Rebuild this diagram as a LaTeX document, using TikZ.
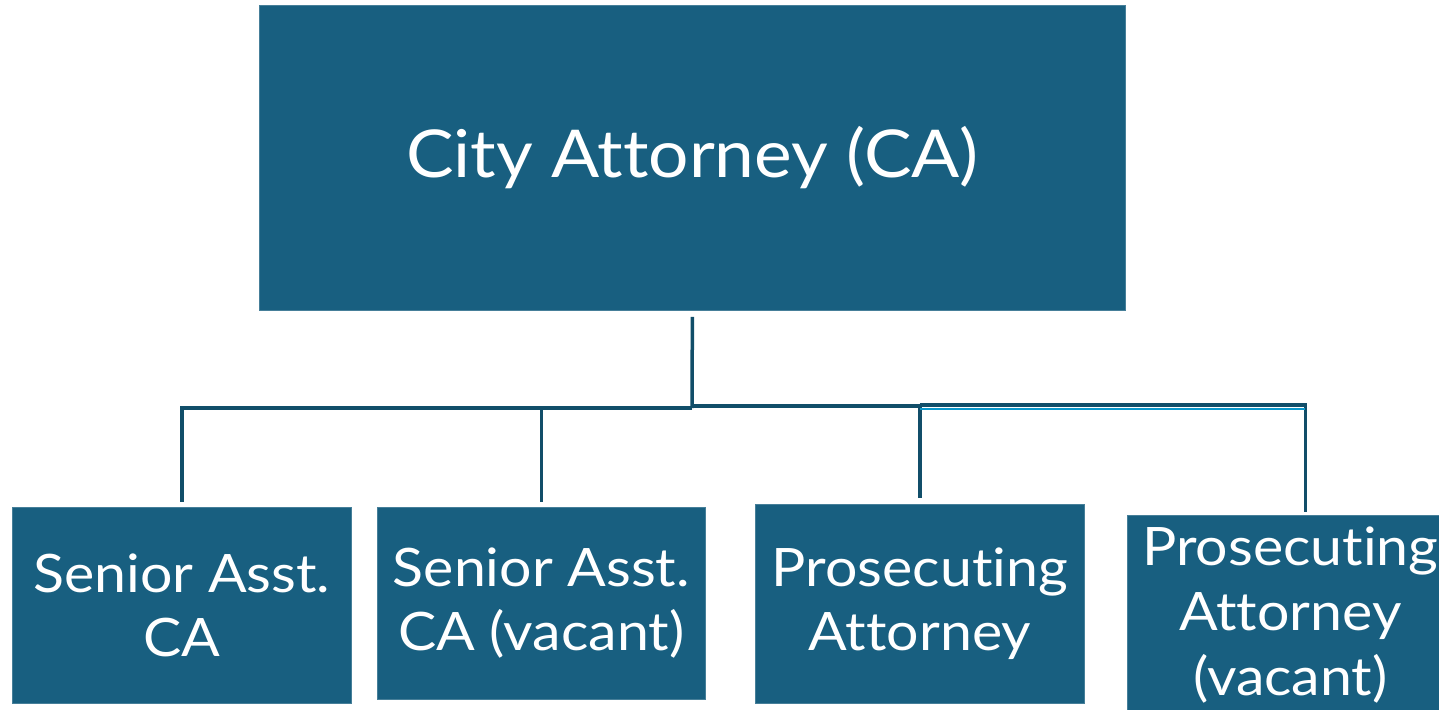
\documentclass[tikz,border=0pt]{standalone}
\usepackage{fontspec}
\setmainfont{Lato}[FakeStretch=1.08, Ligatures=NoCommon]
\definecolor{boxblue}{HTML}{185F80}
\definecolor{linedark}{HTML}{114E69}
\definecolor{linelight}{HTML}{0A98CC}
\begin{document}
\begin{tikzpicture}[x=1pt,y=-1pt,
  orgbox/.style={fill=boxblue, draw=boxblue!80!white, line width=0.8pt, text=white,
    align=center, inner sep=0pt, anchor=north west},
  conn/.style={draw=linedark, line width=3.5pt},
  accent/.style={draw=linelight, line width=2pt}]
\useasboundingbox (0,0) rectangle (1439,709);
\begin{scope}
\clip (0,0) rectangle (1439,709);
% top position
\node[orgbox, minimum width=866pt, minimum height=305pt,
  font=\fontsize{66}{80}\selectfont] (top) at (259,5) {City Attorney (CA)};
% reporting positions
\node[orgbox, minimum width=339pt, minimum height=196pt,
  font=\fontsize{53}{64}\selectfont] (b1) at (12,507) {Senior Asst.\\CA};
\node[orgbox, minimum width=328pt, minimum height=192pt,
  font=\fontsize{53}{64}\selectfont] (b2) at (377,507) {Senior Asst.\\CA (vacant)};
\node[orgbox, minimum width=329pt, minimum height=199pt,
  font=\fontsize{53}{64}\selectfont] (b3) at (755,504) {Prosecuting\\Attorney};
\node[orgbox, minimum width=326pt, minimum height=200pt,
  font=\fontsize{53}{65}\selectfont] (b4) at (1127,515) {Prosecuting\\Attorney\\(vacant)};
\end{scope}
% connectors
\coordinate (j0) at (692,408);
\coordinate (j1) at (692,406);
\coordinate (j2) at (919.5,405);
\coordinate (t4) at ([xshift=15pt]b4.north);
\draw[conn, shorten <=6pt] (top.south) -- (j0);
\draw[conn, shorten >=5pt] (j0) -| (b1.north);
\draw[conn, shorten >=5pt] (j0) -| (b2.north);
\draw[conn, shorten >=6pt] (j1) -| (b3.north);
\draw[conn, shorten >=3pt] (j2) -| (t4);
\draw[accent] ([yshift=-4pt]j2) -- ([yshift=-4pt]j2 -| t4);
\end{tikzpicture}
\end{document}
